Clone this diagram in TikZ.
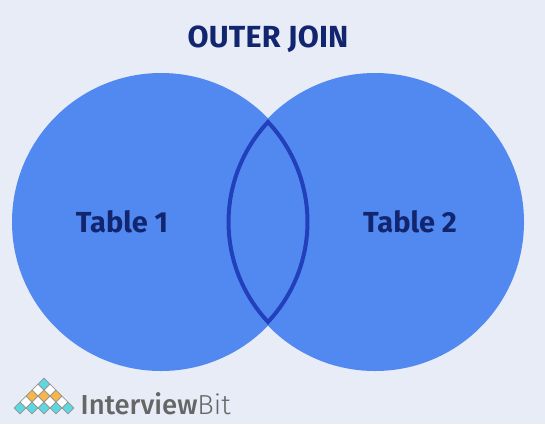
\documentclass[tikz,border=0pt]{standalone}
\usepackage{fontspec}
\setmainfont{Fira Sans}
\newfontfamily\logomed{Fira Sans Medium}
\newfontfamily\logolight{Fira Sans Light}
\definecolor{bgc}{HTML}{E8ECF7}
\definecolor{blu}{HTML}{5289F0}
\definecolor{edgeb}{HTML}{2240BC}
\definecolor{navy}{HTML}{12256F}
\definecolor{tealc}{HTML}{5DD8DF}
\definecolor{orc}{HTML}{F9B64B}
\definecolor{gryc}{HTML}{666666}
\usetikzlibrary{shapes.geometric}
\tikzset{
  vennc/.style={circle,fill=blu,minimum size=298pt,inner sep=0pt,draw=none},
  lab/.style={text=navy,font=\bfseries\fontsize{29}{32}\selectfont,inner sep=0pt,anchor=base},
  cell/.style={diamond,draw=gryc!70,line width=0.6pt,minimum size=12pt,inner sep=0pt},
}
\begin{document}
\begin{tikzpicture}[x=1pt,y=-1pt]
\useasboundingbox (0,0) rectangle (545,424);
\fill[bgc] (0,0) rectangle (545,424);
\node[vennc] (c1) at (161,222) {};
\node[vennc] (c2) at (375,222) {};
\draw[edgeb,line width=4pt,line join=miter] (268,122)
  arc[start angle=136.9,end angle=223.1,radius=146.3pt]
  arc[start angle=-43.1,end angle=43.1,radius=146.3pt] -- cycle;
\node[lab] (t1) at (122,232) {Table 1};
\node[lab] (t2) at (410,232) {Table 2};
\node[lab,font=\bfseries\fontsize{30.5}{32}\selectfont] (title) at (268,47) {\addfontfeature{LetterSpace=0.5}OUTER JOIN};
\foreach \x in {20,32,44,56,68} \node[cell,fill=tealc] (a\x) at (\x,408) {};
\foreach \x in {26,38,50,62} \node[cell,fill=white] (b\x) at (\x,402) {};
\foreach \x in {32,44,56} \node[cell,fill=orc] (d\x) at (\x,396) {};
\foreach \x in {38,50} \node[cell,fill=white] (e\x) at (\x,390) {};
\node[cell,fill=tealc] (f) at (44,384) {};
\node[anchor=base west,inner sep=0pt,text=gryc,font=\fontsize{27.5}{32}\selectfont] (logo) at (80.5,414) {{\logomed Interview}{\logolight Bit}};
\end{tikzpicture}
\end{document}
